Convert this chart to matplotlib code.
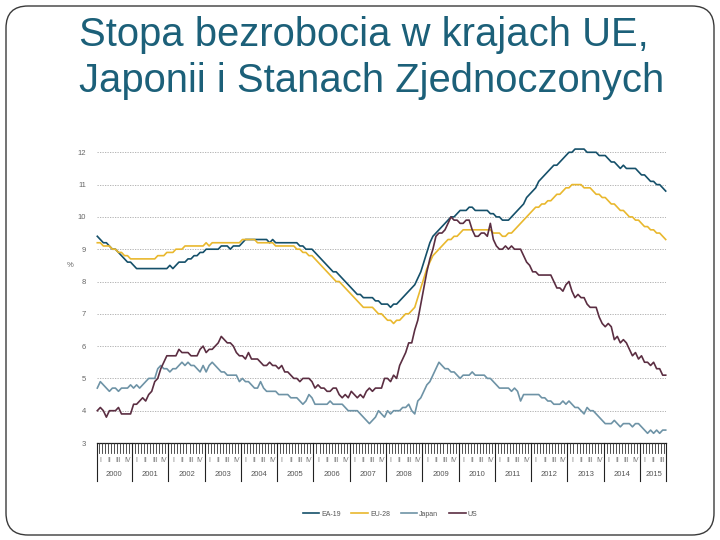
import matplotlib
matplotlib.use("Agg")
import matplotlib.pyplot as plt
from matplotlib.patches import FancyBboxPatch
import numpy as np

plt.rcParams['font.family'] = ['Liberation Sans', 'DejaVu Sans']

title_lines = ["Stopa bezrobocia w krajach UE,", "Japonii i Stanach Zjednoczonych"]
years = list(range(2000, 2016))
quarters = ["I", "II", "III", "IV"]
series_names = ["EA-19", "EU-28", "Japan", "US"]

ea19 = [9.4, 9.3, 9.2, 9.2, 9.1, 9.0, 9.0, 8.9, 8.8, 8.7, 8.6, 8.6,
        8.5, 8.4, 8.4, 8.4, 8.4, 8.4, 8.4, 8.4, 8.4, 8.4, 8.4, 8.4,
        8.5, 8.4, 8.5, 8.6, 8.6, 8.6, 8.7, 8.7, 8.8, 8.8, 8.9, 8.9,
        9.0, 9.0, 9.0, 9.0, 9.0, 9.1, 9.1, 9.1, 9.0, 9.1, 9.1, 9.1,
        9.2, 9.3, 9.3, 9.3, 9.3, 9.3, 9.3, 9.3, 9.3, 9.2, 9.3, 9.2,
        9.2, 9.2, 9.2, 9.2, 9.2, 9.2, 9.2, 9.1, 9.1, 9.0, 9.0, 9.0,
        8.9, 8.8, 8.7, 8.6, 8.5, 8.4, 8.3, 8.3, 8.2, 8.1, 8.0, 7.9,
        7.8, 7.7, 7.6, 7.6, 7.5, 7.5, 7.5, 7.5, 7.4, 7.4, 7.3, 7.3,
        7.3, 7.2, 7.3, 7.3, 7.4, 7.5, 7.6, 7.7, 7.8, 7.9, 8.1, 8.3,
        8.6, 8.9, 9.2, 9.4, 9.5, 9.6, 9.7, 9.8, 9.9, 10.0, 10.0, 10.1,
        10.2, 10.2, 10.2, 10.3, 10.3, 10.2, 10.2, 10.2, 10.2, 10.2, 10.1, 10.1,
        10.0, 10.0, 9.9, 9.9, 9.9, 10.0, 10.1, 10.2, 10.3, 10.4, 10.6, 10.7,
        10.8, 10.9, 11.1, 11.2, 11.3, 11.4, 11.5, 11.6, 11.6, 11.7, 11.8, 11.9,
        12.0, 12.0, 12.1, 12.1, 12.1, 12.1, 12.0, 12.0, 12.0, 12.0, 11.9, 11.9,
        11.9, 11.8, 11.7, 11.7, 11.6, 11.5, 11.6, 11.5, 11.5, 11.5, 11.5, 11.4,
        11.3, 11.3, 11.2, 11.1, 11.1, 11.0, 11.0, 10.9, 10.8]

eu28 = [9.2, 9.2, 9.1, 9.1, 9.1, 9.0, 9.0, 8.9, 8.9, 8.8, 8.8, 8.7,
        8.7, 8.7, 8.7, 8.7, 8.7, 8.7, 8.7, 8.7, 8.8, 8.8, 8.8, 8.9,
        8.9, 8.9, 9.0, 9.0, 9.0, 9.1, 9.1, 9.1, 9.1, 9.1, 9.1, 9.1,
        9.2, 9.1, 9.2, 9.2, 9.2, 9.2, 9.2, 9.2, 9.2, 9.2, 9.2, 9.2,
        9.3, 9.3, 9.3, 9.3, 9.3, 9.2, 9.2, 9.2, 9.2, 9.2, 9.2, 9.1,
        9.1, 9.1, 9.1, 9.1, 9.1, 9.1, 9.0, 9.0, 8.9, 8.9, 8.8, 8.8,
        8.7, 8.6, 8.5, 8.4, 8.3, 8.2, 8.1, 8.0, 8.0, 7.9, 7.8, 7.7,
        7.6, 7.5, 7.4, 7.3, 7.2, 7.2, 7.2, 7.2, 7.1, 7.0, 7.0, 6.9,
        6.8, 6.8, 6.7, 6.8, 6.8, 6.9, 7.0, 7.0, 7.1, 7.2, 7.5, 7.8,
        8.1, 8.4, 8.6, 8.8, 8.9, 9.0, 9.1, 9.2, 9.3, 9.3, 9.4, 9.4,
        9.5, 9.6, 9.6, 9.6, 9.6, 9.6, 9.6, 9.6, 9.6, 9.6, 9.6, 9.5,
        9.5, 9.5, 9.4, 9.4, 9.5, 9.5, 9.6, 9.7, 9.8, 9.9, 10.0, 10.1,
        10.2, 10.3, 10.3, 10.4, 10.4, 10.5, 10.5, 10.6, 10.7, 10.7, 10.8, 10.9,
        10.9, 11.0, 11.0, 11.0, 11.0, 10.9, 10.9, 10.9, 10.8, 10.7, 10.7, 10.6,
        10.6, 10.5, 10.4, 10.4, 10.3, 10.2, 10.2, 10.1, 10.0, 10.0, 9.9, 9.9,
        9.8, 9.7, 9.7, 9.6, 9.6, 9.5, 9.5, 9.4, 9.3]

japan = [4.7, 4.9, 4.8, 4.7, 4.6, 4.7, 4.7, 4.6, 4.7, 4.7, 4.7, 4.8,
         4.7, 4.8, 4.7, 4.8, 4.9, 5.0, 5.0, 5.0, 5.3, 5.4, 5.3, 5.3,
         5.2, 5.3, 5.3, 5.4, 5.5, 5.4, 5.5, 5.4, 5.4, 5.3, 5.2, 5.4,
         5.2, 5.4, 5.5, 5.4, 5.3, 5.2, 5.2, 5.1, 5.1, 5.1, 5.1, 4.9,
         5.0, 4.9, 4.9, 4.8, 4.7, 4.7, 4.9, 4.7, 4.6, 4.6, 4.6, 4.6,
         4.5, 4.5, 4.5, 4.5, 4.4, 4.4, 4.4, 4.3, 4.2, 4.3, 4.5, 4.4,
         4.2, 4.2, 4.2, 4.2, 4.2, 4.3, 4.2, 4.2, 4.2, 4.2, 4.1, 4.0,
         4.0, 4.0, 4.0, 3.9, 3.8, 3.7, 3.6, 3.7, 3.8, 4.0, 3.9, 3.8,
         4.0, 3.9, 4.0, 4.0, 4.0, 4.1, 4.1, 4.2, 4.0, 3.9, 4.3, 4.4,
         4.6, 4.8, 4.9, 5.1, 5.3, 5.5, 5.4, 5.3, 5.3, 5.2, 5.2, 5.1,
         5.0, 5.1, 5.1, 5.1, 5.2, 5.1, 5.1, 5.1, 5.1, 5.0, 5.0, 4.9,
         4.8, 4.7, 4.7, 4.7, 4.7, 4.6, 4.7, 4.6, 4.3, 4.5, 4.5, 4.5,
         4.5, 4.5, 4.5, 4.4, 4.4, 4.3, 4.3, 4.2, 4.2, 4.2, 4.3, 4.2,
         4.3, 4.2, 4.1, 4.1, 4.0, 3.9, 4.1, 4.0, 4.0, 3.9, 3.8, 3.7,
         3.6, 3.6, 3.6, 3.7, 3.6, 3.5, 3.6, 3.6, 3.6, 3.5, 3.6, 3.6,
         3.5, 3.4, 3.3, 3.4, 3.3, 3.4, 3.3, 3.4, 3.4]

us = [4.0, 4.1, 4.0, 3.8, 4.0, 4.0, 4.0, 4.1, 3.9, 3.9, 3.9, 3.9,
      4.2, 4.2, 4.3, 4.4, 4.3, 4.5, 4.6, 4.9, 5.0, 5.3, 5.5, 5.7,
      5.7, 5.7, 5.7, 5.9, 5.8, 5.8, 5.8, 5.7, 5.7, 5.7, 5.9, 6.0,
      5.8, 5.9, 5.9, 6.0, 6.1, 6.3, 6.2, 6.1, 6.1, 6.0, 5.8, 5.7,
      5.7, 5.6, 5.8, 5.6, 5.6, 5.6, 5.5, 5.4, 5.4, 5.5, 5.4, 5.4,
      5.3, 5.4, 5.2, 5.2, 5.1, 5.0, 5.0, 4.9, 5.0, 5.0, 5.0, 4.9,
      4.7, 4.8, 4.7, 4.7, 4.6, 4.6, 4.7, 4.7, 4.5, 4.4, 4.5, 4.4,
      4.6, 4.5, 4.4, 4.5, 4.4, 4.6, 4.7, 4.6, 4.7, 4.7, 4.7, 5.0,
      5.0, 4.9, 5.1, 5.0, 5.4, 5.6, 5.8, 6.1, 6.1, 6.5, 6.8, 7.3,
      7.8, 8.3, 8.7, 9.0, 9.4, 9.5, 9.5, 9.6, 9.8, 10.0, 9.9, 9.9,
      9.8, 9.8, 9.9, 9.9, 9.6, 9.4, 9.4, 9.5, 9.5, 9.4, 9.8, 9.3,
      9.1, 9.0, 9.0, 9.1, 9.0, 9.1, 9.0, 9.0, 9.0, 8.8, 8.6, 8.5,
      8.3, 8.3, 8.2, 8.2, 8.2, 8.2, 8.2, 8.0, 7.8, 7.8, 7.7, 7.9,
      8.0, 7.7, 7.5, 7.6, 7.5, 7.5, 7.3, 7.2, 7.2, 7.2, 6.9, 6.7,
      6.6, 6.7, 6.6, 6.2, 6.3, 6.1, 6.2, 6.1, 5.9, 5.7, 5.8, 5.6,
      5.7, 5.5, 5.5, 5.4, 5.5, 5.3, 5.3, 5.1, 5.1]

colors = ["#15506A", "#E9B82E", "#6E93A6", "#5B2E42"]

W, H = 720, 540
fig = plt.figure(figsize=(7.2, 5.4), dpi=100)
fig.patch.set_facecolor("white")

# slide border
border = FancyBboxPatch((6, 5), 708, 529, boxstyle="round,pad=0,rounding_size=22",
                        transform=None, fill=False, edgecolor="#3a3a3a", linewidth=1.0)
fig.patches.append(border)

# title
title_color = "#1C6079"
fig.text(79 / W, 1 - 35 / H, title_lines[0], fontsize=28.8, color=title_color,
         ha="left", va="center")
fig.text(79 / W, 1 - 81 / H, title_lines[1], fontsize=28.8, color=title_color,
         ha="left", va="center")

n = len(ea19)
x = np.arange(n)
x_left_px, x_right_px = 97.3, 665.7
y_top_px, y_bot_px = 152.3, 443.0
ax = fig.add_axes([x_left_px / W, 1 - y_bot_px / H,
                   (x_right_px - x_left_px) / W, (y_bot_px - y_top_px) / H])
ax.set_xlim(0, n - 1)
ax.set_ylim(3, 12)
for y in range(4, 13):
    ax.axhline(y, color="#a8a8a8", lw=0.6, ls=(0, (1.5, 1.5)), zorder=0)
for vals, c, name in zip([ea19, eu28, japan, us], colors, series_names):
    ax.plot(x, vals, color=c, lw=1.2, label=name, zorder=3, clip_on=False)
for s in ["left", "right", "top", "bottom"]:
    ax.spines[s].set_visible(False)
ax.set_xticks([])
ax.set_yticks(range(3, 13))
ax.set_yticklabels([str(v) for v in range(3, 13)], fontsize=5.5, color="#666666")
ax.tick_params(axis="y", length=0, pad=8)
ax.text(-0.048, (8.5 - 3) / 9, "%", transform=ax.transAxes, fontsize=5.5,
        color="#666666", ha="center", va="center")

# time band below the plot
band_bottom_px = 481
bax = fig.add_axes([x_left_px / W, 1 - band_bottom_px / H,
                    (x_right_px - x_left_px) / W, (band_bottom_px - y_bot_px) / H])
bax.set_xlim(0, n - 1)
bax.set_ylim(0, 1)
bax.axis("off")
bax.plot([0, n - 1], [1, 1], color="#222222", lw=0.9, clip_on=False)
for i, yr in enumerate(years):
    start = i * 12
    sep = start - 0.5 if i else 0
    bax.plot([sep, sep], [0, 1], color="#222222", lw=0.8, clip_on=False)
    end = min(start + 12, n)
    bax.text((start + end - 1) / 2, 0.16, str(yr), fontsize=5.5, color="#555555",
             ha="center", va="center")
    for q in range(4):
        qs = start + 3 * q
        if qs >= n:
            break
        qe = min(qs + 3, n)
        bax.text((qs + qe - 1) / 2, 0.53, quarters[q], fontsize=5, color="#777777",
                 ha="center", va="center")
    for mth in range(start, end):
        if mth % 12 != 0:
            bax.plot([mth - 0.5, mth - 0.5], [1, 0.75], color="#333333", lw=0.6,
                     clip_on=False)
bax.plot([n - 1, n - 1], [0, 1], color="#222222", lw=0.8, clip_on=False)

handles, labels = ax.get_legend_handles_labels()
fig.legend(handles, labels, loc="center", bbox_to_anchor=(390 / W, 1 - 514 / H),
           ncol=4, frameon=False, fontsize=5, handlelength=2.4, handletextpad=0.3,
           columnspacing=1.5, labelcolor="#555555")

fig.savefig("out.png", dpi=100, facecolor="white")
